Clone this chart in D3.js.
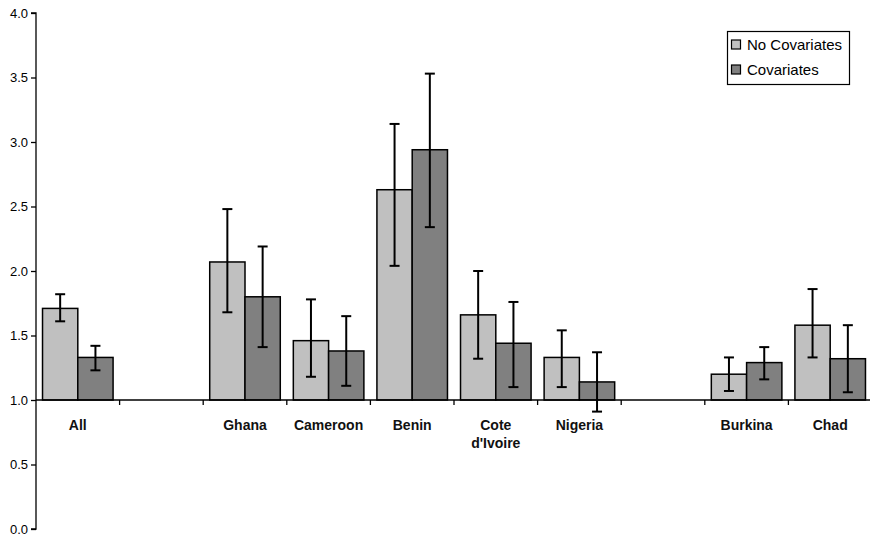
<!DOCTYPE html>
<html><head><meta charset="utf-8">
<script src="https://cdn.jsdelivr.net/npm/d3@7"></script>
<style>body{margin:0;background:#fff}svg{display:block}</style>
</head><body><svg id="c" width="870" height="539"></svg>
<script>
const categories = ["All", "", "Ghana", "Cameroon", "Benin", "Cote d'Ivoire", "Nigeria", " ", "Burkina", "Chad"];
const seriesNames = ["No Covariates", "Covariates"];
const noCov      = [1.71, null, 2.07, 1.46, 2.63, 1.66, 1.33, null, 1.20, 1.58];
const noCovLow   = [1.61, null, 1.68, 1.18, 2.04, 1.32, 1.10, null, 1.07, 1.33];
const noCovHigh  = [1.82, null, 2.48, 1.78, 3.14, 2.00, 1.54, null, 1.33, 1.86];
const cov        = [1.33, null, 1.80, 1.38, 2.94, 1.44, 1.14, null, 1.29, 1.32];
const covLow     = [1.23, null, 1.41, 1.11, 2.34, 1.10, 0.91, null, 1.16, 1.06];
const covHigh    = [1.42, null, 2.19, 1.65, 3.53, 1.76, 1.37, null, 1.41, 1.58];
const yTicks = [0, 0.5, 1.0, 1.5, 2.0, 2.5, 3.0, 3.5, 4.0];
const baseline = 1.0;

const colors = ["#c0c0c0", "#808080"];
const svg = d3.select("#c");
const pLeft = 36, pRight = 872, pTop = 13, pBottom = 529;

const y = d3.scaleLinear().domain([0, 4]).range([pBottom, pTop]);
const x0 = d3.scaleBand().domain(categories).range([pLeft, pRight]).padding(0);
const bw = x0.bandwidth();
const x1 = d3.scaleBand().domain(seriesNames).range([bw*0.078, bw*0.922]).padding(0);

const series = [
  {name: seriesNames[0], v: noCov, lo: noCovLow, hi: noCovHigh},
  {name: seriesNames[1], v: cov, lo: covLow, hi: covHigh}
];

// y axis
const yAxis = d3.axisLeft(y).tickValues(yTicks).tickFormat(d3.format(".1f")).tickSize(5).tickPadding(3);
const ya = svg.append("g").attr("transform", `translate(${pLeft},0)`).call(yAxis);
ya.select(".domain").attr("stroke", "#000").attr("stroke-width", 1.3).attr("d", `M-5,${pTop}H0V${pBottom}H-5`);
ya.selectAll(".tick line").attr("stroke", "#000").attr("stroke-width", 1.3);
ya.selectAll(".tick text").attr("font-family", "Liberation Sans, Arial, sans-serif").attr("font-size", 13).attr("fill", "#000");

// bars
series.forEach((s, si) => {
  const g = svg.append("g");
  categories.forEach((c, i) => {
    if (s.v[i] == null) return;
    const bx = x0(c) + x1(s.name);
    g.append("rect")
      .attr("x", bx).attr("width", x1.bandwidth())
      .attr("y", y(s.v[i])).attr("height", y(baseline) - y(s.v[i]))
      .attr("fill", colors[si]).attr("stroke", "#000").attr("stroke-width", 1.5);
  });
});

// x axis at y=1.0
const xg = svg.append("g");
xg.append("line").attr("x1", pLeft).attr("x2", 870).attr("y1", y(baseline)).attr("y2", y(baseline))
  .attr("stroke", "#000").attr("stroke-width", 1.5);
categories.forEach((c, i) => {
  if (i === 0) return;
  xg.append("line").attr("x1", x0(c)).attr("x2", x0(c))
    .attr("y1", y(baseline)).attr("y2", y(baseline) + 5)
    .attr("stroke", "#000").attr("stroke-width", 1.3);
});
categories.forEach((c, i) => {
  if (!c.trim()) return;
  const cx = x0(c) + bw / 2;
  const parts = c === "Cote d'Ivoire" ? ["Cote", "d'Ivoire"] : [c];
  const t = xg.append("text").attr("x", cx).attr("y", y(baseline) + 30)
    .attr("text-anchor", "middle").attr("font-family", "Liberation Sans, Arial, sans-serif")
    .attr("font-weight", "bold").attr("font-size", 14).attr("fill", "#111");
  parts.forEach((p, k) => t.append("tspan").attr("x", cx).attr("dy", k === 0 ? 0 : 18).text(p));
});

// error bars
series.forEach((s) => {
  const g = svg.append("g").attr("stroke", "#000").attr("stroke-width", 2);
  categories.forEach((c, i) => {
    if (s.v[i] == null) return;
    const cx = x0(c) + x1(s.name) + x1.bandwidth() / 2;
    g.append("line").attr("x1", cx).attr("x2", cx).attr("y1", y(s.lo[i])).attr("y2", y(s.hi[i]));
    [s.lo[i], s.hi[i]].forEach(v => g.append("line").attr("x1", cx - 5).attr("x2", cx + 5).attr("y1", y(v)).attr("y2", y(v)));
  });
});

// legend
const lg = svg.append("g");
lg.append("rect").attr("x", 727.5).attr("y", 31.5).attr("width", 122).attr("height", 53)
  .attr("fill", "#fff").attr("stroke", "#000").attr("stroke-width", 1.2);
seriesNames.forEach((n, i) => {
  const cy = 45 + i * 25;
  lg.append("rect").attr("x", 731.5).attr("y", cy - 5).attr("width", 9).attr("height", 9)
    .attr("fill", colors[i]).attr("stroke", "#000").attr("stroke-width", 1.2);
  lg.append("text").attr("x", 747).attr("y", cy + 5).attr("font-family", "Liberation Sans, Arial, sans-serif")
    .attr("font-size", 15).attr("fill", "#000").text(n);
});
</script></body></html>
